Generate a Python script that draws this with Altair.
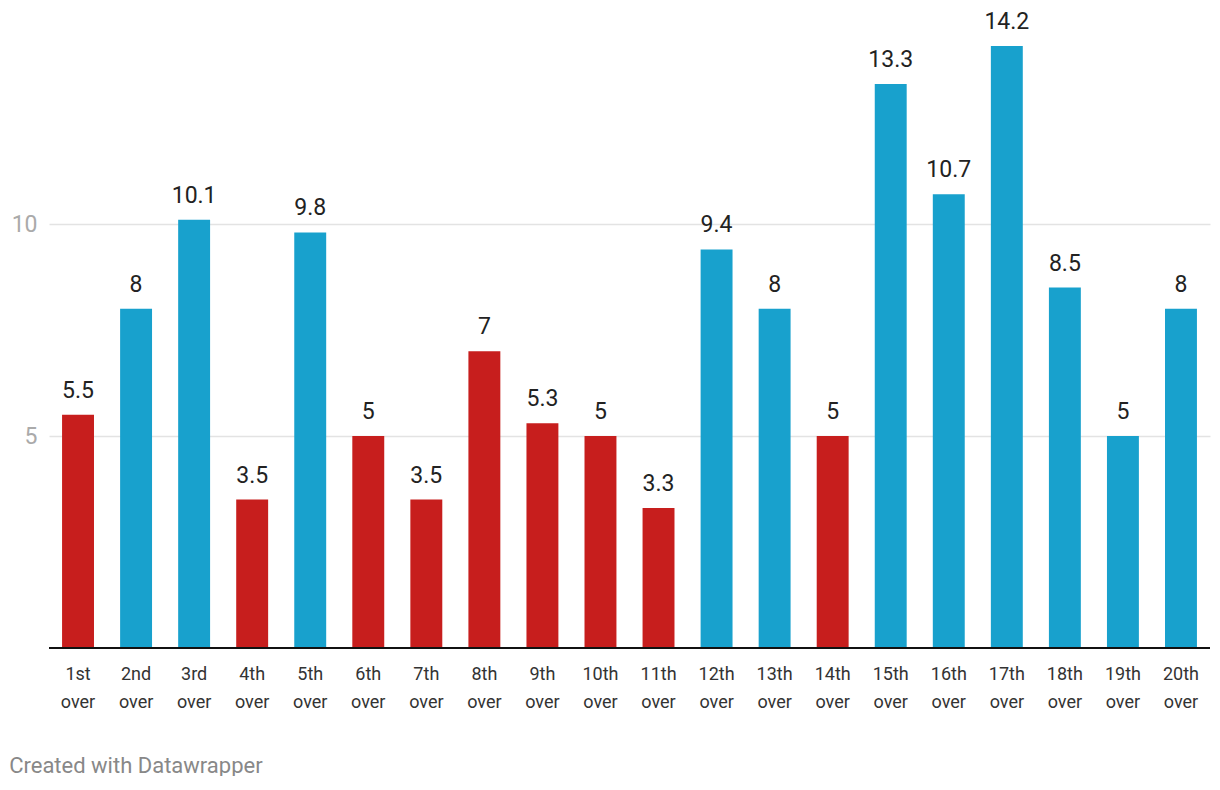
import altair as alt
import pandas as pd

overs = ["1st over", "2nd over", "3rd over", "4th over", "5th over", "6th over", "7th over",
         "8th over", "9th over", "10th over", "11th over", "12th over", "13th over", "14th over",
         "15th over", "16th over", "17th over", "18th over", "19th over", "20th over"]
values = [5.5, 8, 10.1, 3.5, 9.8, 5, 3.5, 7, 5.3, 5, 3.3, 9.4, 8, 5, 13.3, 10.7, 14.2, 8.5, 5, 8]
groups = ["red", "blue", "blue", "red", "blue", "red", "red", "red", "red", "red", "red",
          "blue", "blue", "red", "blue", "blue", "blue", "blue", "blue", "blue"]

df = pd.DataFrame({"over": overs, "value": values, "group": groups,
                   "label": [f"{v:g}" for v in values]})

FONT = "Roboto"

x = alt.X("over:N", sort=overs, title=None,
          scale=alt.Scale(paddingInner=0.45, paddingOuter=0.225),
          axis=alt.Axis(labelExpr="split(datum.label, ' ')", labelAngle=0, labelFontSize=18,
                        labelColor="#333333", labelFont=FONT, labelLineHeight=28,
                        labelPadding=26, ticks=False, domain=False, labelBaseline="middle"))
y = alt.Y("value:Q", title=None,
          scale=alt.Scale(domain=[0, 15], nice=False),
          axis=alt.Axis(values=[5, 10], labelFontSize=23, labelColor="#aaaaaa", labelFont=FONT,
                        ticks=False, domain=False, gridColor="#e3e3e3", gridWidth=1.5,
                        labelPadding=12))

bars = alt.Chart(df).mark_bar().encode(
    x=x, y=y,
    color=alt.Color("group:N", scale=alt.Scale(domain=["red", "blue"],
                                               range=["#c71e1d", "#18a1cd"]), legend=None),
)

text = alt.Chart(df).mark_text(baseline="bottom", dy=-12, fontSize=23, font=FONT,
                               color="#222222").encode(
    x=alt.X("over:N", sort=overs), y="value:Q", text="label:N")

base = alt.Chart(pd.DataFrame({"v": [0]})).mark_rule(color="#111111", strokeWidth=2).encode(y="v:Q")

chart = alt.layer(bars, text, base).properties(
    width=1161, height=636,
    autosize=alt.AutoSizeParams(type="none"),
    padding={"left": 41, "top": 4, "right": 2, "bottom": 128},
    title=alt.TitleParams("Created with Datawrapper", orient="bottom", anchor="start",
                          frame="bounds", dx=-2, offset=45, fontSize=22, font=FONT,
                          color="#888888", fontWeight="normal"),
).configure_view(stroke=None)

chart.save("out.html", embed_options={"renderer": "svg", "actions": False})
